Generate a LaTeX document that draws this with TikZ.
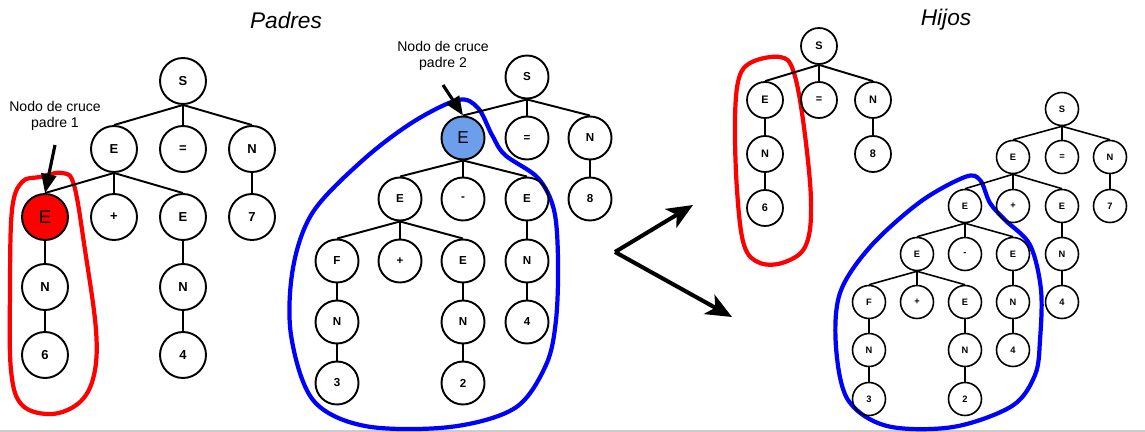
\documentclass[tikz,border=0pt]{standalone}
\usepackage{fontspec}
\setmainfont{Liberation Sans}
\usetikzlibrary{arrows.meta}
\definecolor{loopred}{HTML}{FF0000}
\definecolor{loopblue}{HTML}{0000FF}
\definecolor{cornflower}{HTML}{6D9EEB}
\tikzset{
  nA/.style={circle,draw,line width=1.1pt,minimum size=46*0.02cm,inner sep=0pt,font=\bfseries\fontsize{7.4}{8}\selectfont},
  nB/.style={circle,draw,line width=1.1pt,minimum size=43*0.02cm,inner sep=0pt,font=\bfseries\fontsize{6.6}{7}\selectfont},
  nC/.style={circle,draw,line width=1pt,minimum size=36*0.02cm,inner sep=0pt,font=\bfseries\fontsize{6.2}{7}\selectfont},
  nD/.style={circle,draw,line width=0.9pt,minimum size=33*0.02cm,inner sep=0pt,font=\bfseries\fontsize{5.3}{6}\selectfont},
  edgeA/.style={line width=1.1pt},
  edgeD/.style={line width=0.9pt},
  loopr/.style={draw=loopred,line width=2.4pt},
  loopb/.style={draw=loopblue,line width=2.4pt},
  bigarrow/.style={line width=2.3pt,-{Stealth[length=26*0.02cm,width=22*0.02cm,inset=7*0.02cm]}},
  callarrow/.style={line width=1.8pt,-{Stealth[length=19*0.02cm,width=15*0.02cm,inset=0pt]}},
  callout/.style={align=center,font=\fontsize{8}{9.5}\selectfont},
  title/.style={font=\itshape\fontsize{12.9}{14}\selectfont}
}
\begin{document}
\begin{tikzpicture}[x=0.02cm,y=-0.02cm]
\useasboundingbox (0,0) rectangle (1145,432);
\draw[black!20,line width=0.6pt] (0,431) -- (1145,431);

% ---------- selection loops (drawn first, below the trees) ----------
\draw[loopr] plot[smooth cycle,tension=0.6] coordinates {
 (40,177) (62,173) (74,185) (85,250) (96,330) (94,375) (80,402) (52,414)
 (22,405) (11,370) (10,290) (12,210) (22,182)};
\draw[loopb] plot[smooth cycle,tension=0.55] coordinates {
 (458,100) (478,108) (492,135) (505,155) (538,178) (554,210) (558,260) (556,320)
 (546,365) (515,408) (450,427) (365,426) (313,400) (291,335) (293,268) (313,212)
 (363,160) (413,122)};
\draw[loopr] plot[smooth cycle,tension=0.6] coordinates {
 (752,62) (780,57) (793,70) (803,120) (811,200) (806,245) (785,262) (760,263)
 (744,245) (737,190) (735,120) (739,78)};
\draw[loopb] plot[smooth cycle,tension=0.55] coordinates {
 (965,177) (980,180) (990,203) (1005,220) (1030,245) (1041,290) (1040,340)
 (1035,375) (1012,406) (953,427) (887,426) (848,400) (836,347) (840,293)
 (870,247) (920,202)};

% titles
\node[title] (tP) at (286,20) {Padres};
\node[title] (tH) at (946,20) {Hijos};

% ---------- Parent 1 ----------
\node[nA] (aS) at (183,81) {S};
\node[nA] (aE) at (114,149) {E};
\node[nA] (aeq) at (183,149) {=};
\node[nA] (aN) at (252,149) {N};
\node[nA,fill=loopred,font=\fontsize{10.6}{11}\selectfont] (aX) at (45,217) {E};
\node[nA] (aplus) at (114,217) {+};
\node[nA] (aE2) at (183,217) {E};
\node[nA] (a7) at (252,217) {7};
\node[nA] (aN1) at (45,287) {N};
\node[nA] (aN2) at (183,287) {N};
\node[nA] (a6) at (45,355) {6};
\node[nA] (a4) at (183,355) {4};
\foreach \p/\c in {aS/aE,aS/aeq,aS/aN,aE/aX,aE/aplus,aE/aE2,aN/a7,aX/aN1,aE2/aN2,aN1/a6,aN2/a4}
  \draw[edgeA] (\p.south) -- (\c.north);

\node[callout] (l1) at (55,116) {Nodo de cruce\\padre 1};
\coordinate (l1a) at (55,145);
\draw[callarrow] (l1a) -- (aX.north);

% ---------- Parent 2 ----------
\node[nB] (bS) at (527,77) {S};
\node[nB,fill=cornflower,font=\fontsize{9.8}{10}\selectfont] (bX) at (463,138) {E};
\node[nB] (beq) at (527,138) {=};
\node[nB] (bN) at (590,138) {N};
\node[nB] (bE1) at (400,199) {E};
\node[nB] (bminus) at (463,199) {-};
\node[nB] (bE2) at (527,199) {E};
\node[nB] (b8) at (590,199) {8};
\node[nB] (bF) at (337,261) {F};
\node[nB] (bplus) at (400,261) {+};
\node[nB] (bE3) at (463,261) {E};
\node[nB] (bN4) at (527,261) {N};
\node[nB] (bN5) at (337,322) {N};
\node[nB] (bN6) at (463,322) {N};
\node[nB] (b4) at (527,322) {4};
\node[nB] (b3) at (337,383) {3};
\node[nB] (b2) at (463,383) {2};
\foreach \p/\c in {bS/bX,bS/beq,bS/bN,bN/b8,bX/bE1,bX/bminus,bX/bE2,bE1/bF,bE1/bplus,bE1/bE3,bE2/bN4,bF/bN5,bE3/bN6,bN4/b4,bN5/b3,bN6/b2}
  \draw[edgeA] (\p.south) -- (\c.north);

\node[callout] (l2) at (443,56) {Nodo de cruce\\padre 2};
\coordinate (l2a) at (443,85);
\draw[callarrow] (l2a) -- (bX.north);

% ---------- arrows ----------
\coordinate (v) at (615,252);
\coordinate (t1) at (693,205);
\coordinate (t2) at (732,317);
\draw[bigarrow] (v) -- (t1);
\draw[bigarrow] (v) -- (t2);

% ---------- Child 1 ----------
\node[nC] (cS) at (819,46) {S};
\node[nC] (cE) at (765,100) {E};
\node[nC] (ceq) at (819,100) {=};
\node[nC] (cN) at (873,100) {N};
\node[nC] (cN1) at (765,154) {N};
\node[nC] (c8) at (873,154) {8};
\node[nC] (c6) at (765,208) {6};
\foreach \p/\c in {cS/cE,cS/ceq,cS/cN,cE/cN1,cN/c8,cN1/c6}
  \draw[edgeA] (\p.south) -- (\c.north);

% ---------- Child 2 ----------
\node[nD] (dS) at (1062,109) {S};
\node[nD] (dE) at (1013,157) {E};
\node[nD] (deq) at (1062,157) {=};
\node[nD] (dN) at (1110,157) {N};
\node[nD] (dE1) at (965,206) {E};
\node[nD] (dplus) at (1013,206) {+};
\node[nD] (dE2) at (1062,206) {E};
\node[nD] (d7) at (1110,206) {7};
\node[nD] (dE3) at (917,254) {E};
\node[nD] (dminus) at (965,254) {-};
\node[nD] (dE4) at (1013,254) {E};
\node[nD] (dN2) at (1062,254) {N};
\node[nD] (dF) at (869,302) {F};
\node[nD] (dplus2) at (917,302) {+};
\node[nD] (dE5) at (965,302) {E};
\node[nD] (dN3) at (1013,302) {N};
\node[nD] (d4a) at (1062,302) {4};
\node[nD] (dN4) at (869,350) {N};
\node[nD] (dN5) at (965,350) {N};
\node[nD] (d4b) at (1013,350) {4};
\node[nD] (d3) at (869,399) {3};
\node[nD] (d2) at (965,399) {2};
\foreach \p/\c in {dS/dE,dS/deq,dS/dN,dE/dE1,dE/dplus,dE/dE2,dN/d7,dE2/dN2,dN2/d4a,dE1/dE3,dE1/dminus,dE1/dE4,dE3/dF,dE3/dplus2,dE3/dE5,dE4/dN3,dN3/d4b,dF/dN4,dE5/dN5,dN4/d3,dN5/d2}
  \draw[edgeD] (\p.south) -- (\c.north);
\end{tikzpicture}
\end{document}
